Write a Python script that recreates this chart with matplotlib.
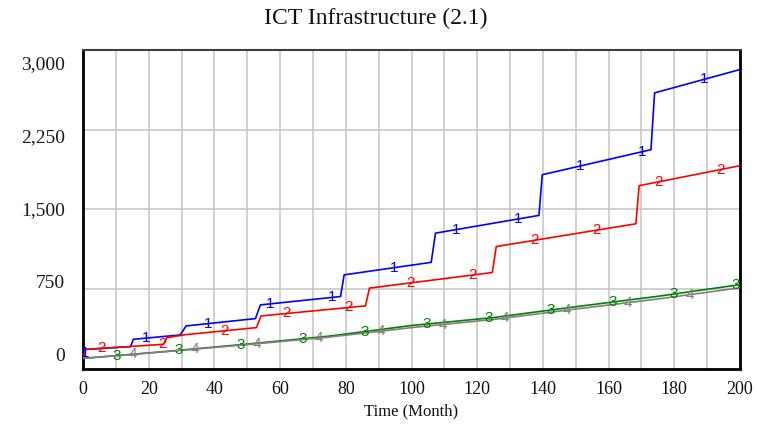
import matplotlib
matplotlib.use('Agg')
import matplotlib.pyplot as plt
import numpy as np

# Series (Time in months, value)
t_1 = [0, 0.8, 14.5, 15.3, 29.6, 31.4, 52.5, 54.0, 78.4, 79.5, 106.0, 107.3,
       138.8, 139.8, 172.9, 174.0, 200]
v_1 = [100, 180, 206, 275, 316, 401, 470, 599, 678, 882, 1000, 1275,
       1442, 1825, 2061, 2596, 2816]

t_2 = [0, 0.8, 24.5, 25.5, 31.0, 52.8, 54.2, 86.0, 87.2, 124.6, 125.8,
       168.3, 169.3, 200]
v_2 = [100, 180, 228, 290, 318, 385, 495, 590, 757, 904, 1149, 1363, 1722, 1910]

t_3 = [0, 25, 50, 75, 100, 125, 150, 175, 200]
v_3 = [95, 160, 230, 305, 405, 480, 582, 680, 790]

t_4 = [0, 25, 50, 75, 100, 125, 150, 175, 200]
v_4 = [95, 158, 225, 296, 385, 462, 560, 655, 760]

series = [(t_1, v_1, '1', '#0000ff', 0.5),
          (t_2, v_2, '2', '#ff0000', 5.5),
          (t_3, v_3, '3', '#008000', 10.3),
          (t_4, v_4, '4', '#808080', 15.2)]

x_ticks = list(range(0, 201, 20))
y_ticks = [0, 750, 1500, 2250, 3000]
y_tick_labels = ['0', '750', '1,500', '2,250', '3,000']

plt.rcParams['font.family'] = ['Liberation Serif', 'DejaVu Serif']

fig = plt.figure(figsize=(7.57, 4.32), dpi=100)
ax = fig.add_axes([83 / 757, 1 - 368.5 / 432, 657 / 757, 318.5 / 432])

ax.set_xlim(0, 200)
ax.set_ylim(0, 3000)
ax.set_xticks(range(0, 201, 10))
ax.set_yticks(y_ticks)
ax.grid(True, color='#c8c8c8', linewidth=1.2)
ax.set_axisbelow(True)
ax.tick_params(axis='both', length=0, labelleft=False, labelbottom=False)

# x tick labels every 20, gridlines every 10
for x in x_ticks:
    ax.text(x, -0.065, str(x), transform=ax.get_xaxis_transform(),
            ha='center', va='center', fontsize=13, color='#111111')

# y labels are spread between the first and last gridline, Vensim style
for frac, lab in zip(np.linspace(0.037, 0.953, 5), y_tick_labels):
    ax.text(-0.027, frac, lab, transform=ax.transAxes, ha='right', va='center',
            fontsize=14, color='#1a1a1a')

for t, v, lab, col, start in series:
    ax.plot(t, v, color=col, linewidth=1.2, zorder=3)
    for xm in np.arange(start, 200.5, 18.85):
        ym = np.interp(xm, t, v)
        ax.text(xm, ym, lab, color=col, fontsize=11, ha='center', va='center',
                family='Liberation Sans', zorder=4)

for side in ['left', 'bottom', 'right']:
    ax.spines[side].set_linewidth(2.0)
    ax.spines[side].set_color('black')
ax.spines['top'].set_linewidth(1.5)
ax.spines['top'].set_color('#404040')

fig.text(0.497, 0.958, 'ICT Infrastructure (2.1)', ha='center', va='center',
         fontsize=17, color='#111111')
fig.text(0.543, 0.048, 'Time (Month)', ha='center', va='center',
         fontsize=12, color='#111111')

plt.savefig('out.png', dpi=100)
